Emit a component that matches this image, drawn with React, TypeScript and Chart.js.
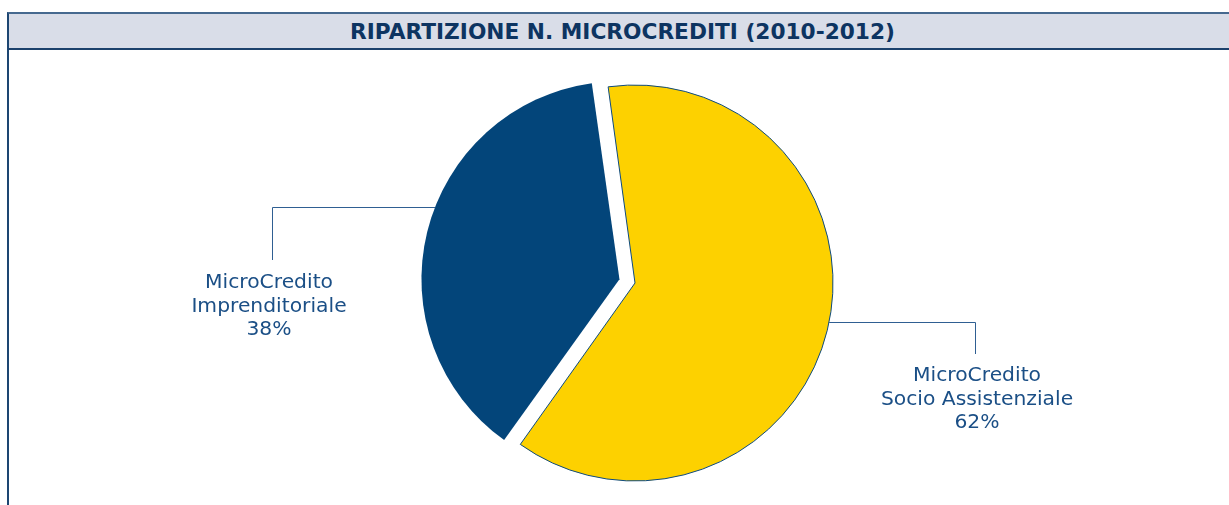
import React, { useEffect, useRef } from 'react';
import { Chart, registerables } from 'chart.js';

Chart.register(...registerables);

const TITLE = 'RIPARTIZIONE N. MICROCREDITI (2010-2012)';
const labelPrefix = 'MicroCredito';
const categories = ['Socio Assistenziale', 'Imprenditoriale'];
const values = [62, 38];
const sliceColors = ['#FDD100', '#03457A'];
const sliceOffsets = [0, 64];

// leader-line placement (angle on the rim in degrees, elbow and text positions)
const leaderAngles = [11.4, 201.3];
const leaderElbowX = [975, 272];
const leaderEndY = [354, 260];
const labelCenterX = [977, 269];
const labelFirstBaseline = [381, 288];

const W = 1229;
const H = 505;

function arcGeom(arc: any) {
  const p = arc.getProps(['x', 'y', 'startAngle', 'endAngle', 'outerRadius', 'circumference'], true);
  const off = (arc.options.offset || 0) / 4;
  const half = (p.startAngle + p.endAngle) / 2;
  const fix = 1 - Math.sin(Math.min(Math.PI, p.circumference || 0));
  return { p, off, half, fix };
}

// keep an exploded slice at the same drawn radius as the others
const keepRadiusPlugin = {
  id: 'keepRadius',
  afterDatasetsUpdate(chart: any) {
    const meta = chart.getDatasetMeta(0);
    meta.data.forEach((arc: any) => {
      const { off, fix } = arcGeom(arc);
      if (off > 0) arc.outerRadius = arc.outerRadius - off * fix;
    });
  },
};

const leaderPlugin = {
  id: 'leaderLabels',
  afterDatasetsDraw(chart: any) {
    const ctx = chart.ctx;
    const meta = chart.getDatasetMeta(0);
    const total = values.reduce((a, b) => a + b, 0);
    meta.data.forEach((arc: any, i: number) => {
      const { p, off, half, fix } = arcGeom(arc);
      const cx = p.x + Math.cos(half) * off;
      const cy = p.y + Math.sin(half) * off;
      const r = p.outerRadius + off * fix;
      const a = (leaderAngles[i] * Math.PI) / 180;
      const ax = cx + Math.cos(a) * r;
      const ay = Math.round(cy + Math.sin(a) * r) + 0.5;
      const ex = Math.round(leaderElbowX[i]) + 0.5;
      ctx.save();
      ctx.strokeStyle = '#2f5f92';
      ctx.lineWidth = 1;
      ctx.beginPath();
      ctx.moveTo(ax, ay);
      ctx.lineTo(ex, ay);
      ctx.lineTo(ex, leaderEndY[i]);
      ctx.stroke();
      const pct = Math.round((values[i] / total) * 100) + '%';
      const lines = [labelPrefix, categories[i], pct];
      ctx.fillStyle = '#1b4f86';
      ctx.font = '20.3px "DejaVu Sans"';
      ctx.textAlign = 'center';
      ctx.textBaseline = 'alphabetic';
      lines.forEach((ln, k) => {
        ctx.fillText(ln, labelCenterX[i], labelFirstBaseline[i] + k * 23.5);
      });
      ctx.restore();
    });
  },
};

export default function App() {
  const ref = useRef<HTMLCanvasElement | null>(null);
  useEffect(() => {
    if (!ref.current) return;
    const chart = new Chart(ref.current, {
      type: 'pie',
      data: {
        labels: categories.map((c) => labelPrefix + ' ' + c),
        datasets: [
          {
            data: values,
            backgroundColor: sliceColors,
            borderColor: ['#0d4a80', '#03457A'],
            borderWidth: [1, 0],
            offset: sliceOffsets,
          } as any,
        ],
      },
      options: {
        responsive: false,
        animation: false,
        events: [],
        rotation: -7.8,
        radius: 198,
        layout: { padding: { left: 141, right: 100, top: 81, bottom: 20 } },
        plugins: {
          legend: { display: false },
          tooltip: { enabled: false },
          title: { display: false },
        },
      } as any,
      plugins: [keepRadiusPlugin, leaderPlugin],
    });
    return () => chart.destroy();
  }, []);

  return (
    <div style={{ position: 'fixed', left: 0, top: 0, width: W, height: H, background: '#fff', overflow: 'hidden' }}>
      <div
        style={{
          position: 'absolute',
          left: 7,
          top: 12,
          width: 7,
          height: H - 12,
          boxSizing: 'border-box',
          borderLeft: '2px solid #1d4672',
        }}
      />
      <div
        style={{
          position: 'absolute',
          left: 7,
          top: 12,
          width: W - 7 + 4,
          height: 38,
          boxSizing: 'border-box',
          background: '#d9dde8',
          borderTop: '2px solid #46698f',
          borderBottom: '2px solid #1c416c',
          borderLeft: '2px solid #1d4672',
          display: 'flex',
          alignItems: 'center',
          justifyContent: 'center',
          paddingLeft: 3,
          fontFamily: '"DejaVu Sans", sans-serif',
          fontWeight: 'bold',
          fontSize: 21.7,
          color: '#0d3461',
          whiteSpace: 'nowrap',
        }}
      >
        {TITLE}
      </div>
      <canvas
        ref={ref}
        width={W}
        height={H}
        style={{ position: 'absolute', left: 0, top: 0, width: W, height: H }}
      />
    </div>
  );
}
